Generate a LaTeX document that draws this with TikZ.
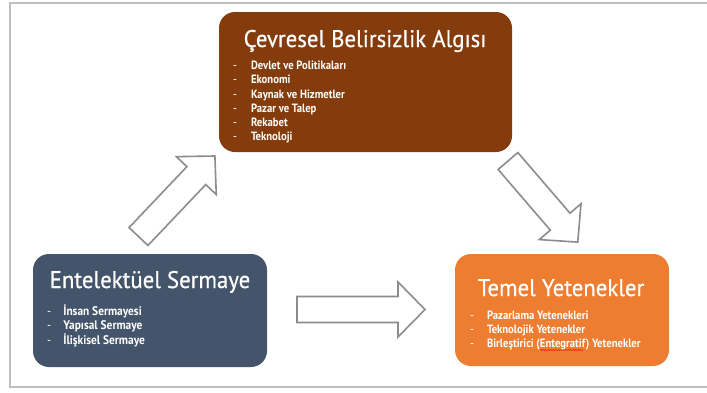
\documentclass[tikz,border=0pt]{standalone}
\usepackage{fontspec}
\setmainfont{PT Sans}
\newfontfamily\titlefont[FakeStretch=0.95,FakeBold=0.5]{PT Sans}
\newfontfamily\itemfont[FakeStretch=0.89]{PT Sans}
\newfontfamily\itemwidefont[FakeStretch=0.91]{PT Sans}
\usepackage{xcolor}
\usepackage{tikz}
\usetikzlibrary{positioning,decorations.pathmorphing}
\definecolor{cevbrown}{HTML}{843C0C}
\definecolor{entslate}{HTML}{44546A}
\definecolor{temorange}{HTML}{ED7D31}
\definecolor{arrowgray}{HTML}{8C8C8C}
\definecolor{framegray}{HTML}{BFBFBF}
\newcommand{\itm}[1]{- & \textbf{#1}\\}

\begin{document}
\begin{tikzpicture}[x=1pt,y=-1pt,
  box/.style={rounded corners=16,inner sep=0,draw=none},
  title/.style={text=white,anchor=base,inner sep=0,font={\titlefont\fontsize{24}{28}\selectfont}},
  items/.style={text=white,anchor=north west,inner sep=0,font={\itemfont\fontsize{12}{14.2}\selectfont}},
  arrowline/.style={draw=arrowgray,line width=1.6pt,fill=white,line join=miter},
  pics/barrow/.style={code={
    \draw[arrowline] (0,-13) -- (#1-27,-13) -- (#1-27,-27.5) -- (#1,0)
      -- (#1-27,27.5) -- (#1-27,13) -- (0,13) -- cycle;}}]
  \useasboundingbox (0,0) rectangle (707,392);
  \draw[framegray,line width=1.4pt] (707,3) -- (10,3) -- (10,387) -- (707,387);

  % boxes
  \node[box,fill=cevbrown,minimum width=293,minimum height=140] (cev) at (365.5,82) {};
  \node[box,fill=entslate,minimum width=234,minimum height=113] (ent) at (150,310.5) {};
  \node[box,fill=temorange,minimum width=214,minimum height=112] (tem) at (562,310) {};

  \node[title] (cevT) at (365,47) {Çevresel Belirsizlik Algısı};
  \node[title] (entT) at (150,288) {Entelektüel Sermaye};
  \node[title] (temT) at (561,296) {Temel Yetenekler};

  \node[items] (cevL) at (233,59.5) {\begin{tabular}{@{}l@{\hspace{14pt}}l@{}}
    \itm{Devlet ve Politikaları}
    \itm{Ekonomi}
    \itm{Kaynak ve Hizmetler}
    \itm{Pazar ve Talep}
    \itm{Rekabet}
    \itm{Teknoloji}
  \end{tabular}};
  \node[items,font={\itemwidefont\fontsize{12.5}{14}\selectfont}] (entL) at (47,305) {%
  \begin{tabular}{@{}l@{\hspace{12pt}}l@{}}
    \itm{İnsan Sermayesi}
    \itm{Yapısal Sermaye}
    \itm{İlişkisel Sermaye}
  \end{tabular}};
  \node[items,font={\itemfont\fontsize{12}{14}\selectfont}] (temL) at (470,309.5) {%
  \begin{tabular}{@{}l@{\hspace{13pt}}l@{}}
    \itm{Pazarlama Yetenekleri}
    \itm{Teknolojik Yetenekler}
    \itm{Birleştirici (Entegratif) Yetenekler}
  \end{tabular}};
  \draw[red,decorate,decoration={snake,amplitude=0.6,segment length=2.5}]
    (540,350) -- (583,350);

  % block arrows
  \pic[rotate=46.5] at (138.5,236.5) {barrow=111};
  \pic[rotate=-49.3] at (508,161) {barrow=107};
  \pic at (297,309.5) {barrow=128};
\end{tikzpicture}
\end{document}
